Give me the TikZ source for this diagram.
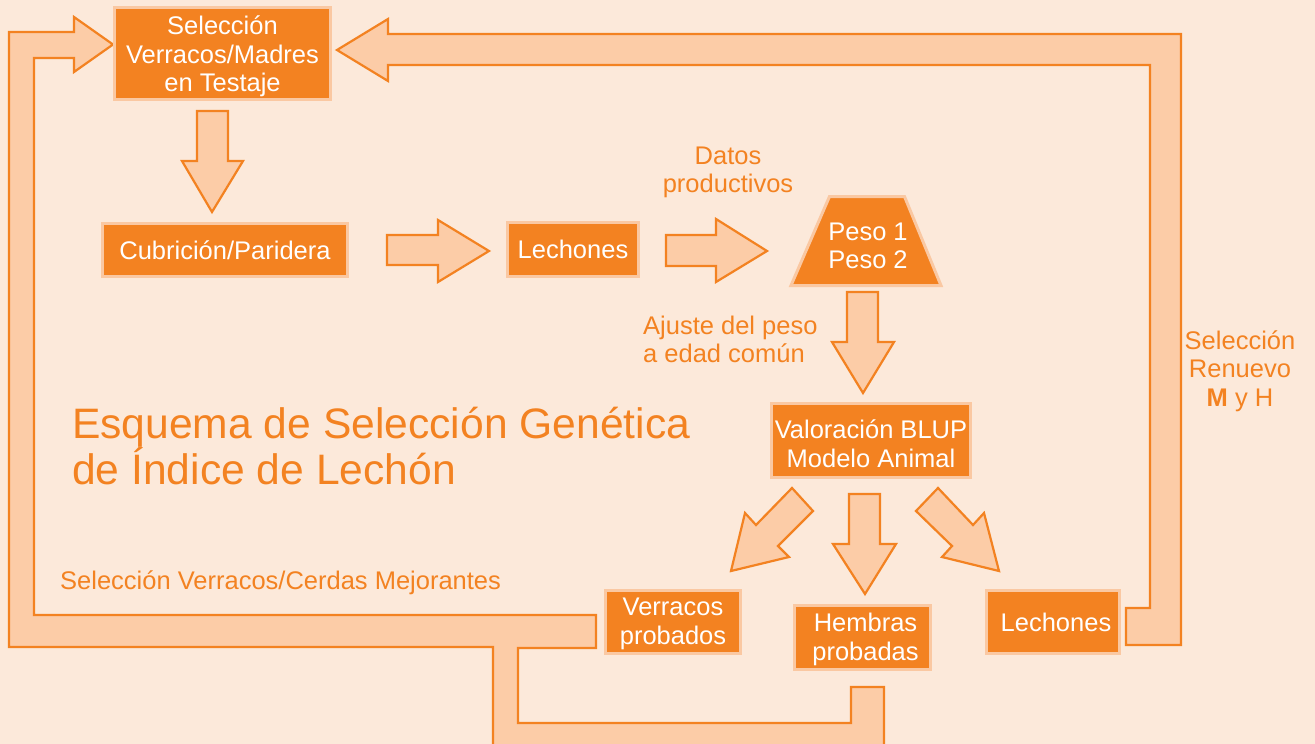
\documentclass[tikz,border=0pt]{standalone}
\usepackage{fontspec}
\setmainfont{Liberation Sans}
\definecolor{bg}{RGB}{252,233,218}
\definecolor{orng}{RGB}{243,130,33}
\definecolor{arrowfill}{RGB}{252,204,167}
\definecolor{boxedge}{RGB}{250,200,162}
\begin{document}
\begin{tikzpicture}[x=1pt,y=-1pt,
  box/.style={fill=orng, draw=boxedge, line width=3pt, text=white,
    font=\fontsize{25.5}{29}\selectfont, align=center, inner sep=0pt},
  blk/.style={fill=arrowfill, draw=orng, line width=2.2pt, line join=miter},
  lbl/.style={text=orng, font=\fontsize{25.5}{28.5}\selectfont, align=center, inner sep=0pt},
  wlbl/.style={text=white, font=\fontsize{25.5}{28.5}\selectfont, align=center, inner sep=0pt},
  ttl/.style={text=orng, font=\fontsize{42.6}{46}\selectfont, align=left, inner sep=0pt}]
\fill[bg] (0,0) rectangle (1315,744);
\useasboundingbox (0,0) rectangle (1315,744);
% loops
\draw[blk] (113,44.5) -- (74,72) -- (74,58) -- (34,58) -- (34,615) -- (596,615) -- (596,648) -- (518,648) -- (518,723) -- (851,723) -- (851,687) -- (884,687) -- (884,752) -- (493,752) -- (493,647) -- (9,647) -- (9,32) -- (74,32) -- (74,17) -- cycle;
\draw[blk] (337,50) -- (388,19) -- (388,34) -- (1181,34) -- (1181,645) -- (1126,645) -- (1126,608) -- (1150,608) -- (1150,65) -- (388,65) -- (388,81) -- cycle;
% block arrows
\draw[blk] (197,111) -- (228,111) -- (228,161) -- (243,161) -- (212,212) -- (182,161) -- (197,161) -- cycle;
\draw[blk] (387,235) -- (438,235) -- (438,220) -- (489,251) -- (438,282) -- (438,265) -- (387,265) -- cycle;
\draw[blk] (666,235) -- (716,235) -- (716,219) -- (767,251) -- (716,282) -- (716,266) -- (666,266) -- cycle;
\draw[blk] (847,292) -- (878,292) -- (878,342) -- (894,342) -- (863,393) -- (832,342) -- (847,342) -- cycle;
\draw[blk] (792,488) -- (813,511) -- (778,546) -- (789,557) -- (731,571) -- (745,513) -- (756,525) -- cycle;
\draw[blk] (849,494) -- (880,494) -- (880,544) -- (896,544) -- (865,594) -- (833,544) -- (849,544) -- cycle;
\draw[blk] (938,488) -- (973,525) -- (984,513) -- (999,571) -- (942,557) -- (952,546) -- (916,511) -- cycle;
% boxes
\node[box, minimum width=216pt, minimum height=92pt] (sel) at (222.5,53.5) {};
\node[wlbl] (selt) at ([yshift=-3pt]sel.center) {Selección\\Verracos/Madres\\en Testaje};
\node[box, minimum width=245pt, minimum height=53pt] (cub) at (225,250) {Cubrición/Paridera};
\node[box, minimum width=131pt, minimum height=54pt] (lech1) at (573,249.5) {Lechones};
\draw[fill=orng, draw=boxedge, line width=3pt, line join=miter] (829.5,196.5) -- (904.5,196.5) -- (941,285.5) -- (791,285.5) -- cycle;
\node[wlbl] (peso) at (868,246) {Peso 1\\Peso 2};
\node[box, minimum width=199pt, minimum height=74pt] (blup) at (871,440.5) {};
\node[wlbl] (blupt) at ([yshift=-3pt]blup.center) {Valoración BLUP\\Modelo Animal};
\node[box, minimum width=135pt, minimum height=63pt] (verr) at (673,622) {};
\node[wlbl] (verrt) at ([yshift=-2pt]verr.center) {Verracos\\probados};
\node[box, minimum width=136pt, minimum height=64pt] (hemb) at (862.5,637.5) {};
\node[wlbl] (hembt) at ([xshift=3pt,yshift=-2pt]hemb.center) {Hembras\\probadas};
\node[box, minimum width=133pt, minimum height=63pt] (lech2) at (1053,622) {\hspace*{6pt}Lechones};
% labels
\node[lbl] (datos) at (728,172.5) {Datos\\productivos};
\node[lbl, align=left, anchor=west] (ajuste) at (643,339.5) {Ajuste del peso\\a edad común};
\node[lbl] (renuevo) at (1240,371) {Selección\\Renuevo\\\textbf{M} y H};
\node[lbl, anchor=west] (mejor) at (60,583) {Selección Verracos/Cerdas Mejorantes};
\node[ttl, anchor=west] (title) at (72,446.5) {Esquema de Selección Genética\\de Índice de Lechón};
\end{tikzpicture}
\end{document}
